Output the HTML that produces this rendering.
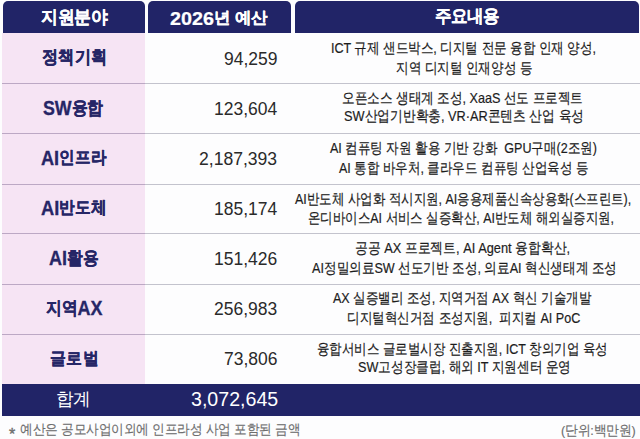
<!DOCTYPE html>
<html><head><meta charset="utf-8">
<style>
*{margin:0;padding:0;box-sizing:border-box}
html,body{width:640px;height:439px;background:#fdfdfe;overflow:hidden}
body{position:relative;font-family:"Liberation Sans",sans-serif}
.bg{position:absolute}
.h{top:1px;height:32px;background:#212467;border-radius:5px 5px 0 0}
.t{position:absolute;white-space:nowrap;line-height:24px;transform-origin:0 0}
.c1 .L{font-size:1.14em;position:relative;top:1px}.hd .L{font-size:1.2em;position:relative;top:2px}
.hd{font-size:17px;font-weight:bold;color:#ffffff;-webkit-text-stroke:0.25px #ffffff}
.c1{font-size:17px;font-weight:bold;color:#262666;-webkit-text-stroke:0.3px #262666}
.c2{font-size:18px;font-weight:normal;color:#2a2a2a}
.c3{font-size:15px;font-weight:normal;color:#1c1c1c;-webkit-text-stroke:0.2px #1c1c1c}
.tl{font-size:17px;font-weight:normal;color:#ffffff}
.tn{font-size:18px;font-weight:normal;color:#ffffff}
.ft{font-size:13px;font-weight:normal;color:#6e6e6e;-webkit-text-stroke:0.15px #6e6e6e}
.fa{font-size:13px;font-weight:normal;color:#6e6e6e;-webkit-text-stroke:0.3px #6e6e6e}
</style></head><body>

<div class="bg h" style="left:2.6px;width:142px"></div>
<div class="bg h" style="left:148.2px;width:142.4px"></div>
<div class="bg h" style="left:295px;width:343.8px"></div>
<div class="bg" style="left:2px;top:33px;width:143px;height:351px;background:#f6e4f4"></div>
<div class="bg" style="left:2px;top:83px;width:143px;height:1px;background:#bca8c4"></div>
<div class="bg" style="left:145px;top:83px;width:495px;height:1px;background:#c3c3cd"></div>
<div class="bg" style="left:2px;top:133px;width:143px;height:1px;background:#bca8c4"></div>
<div class="bg" style="left:145px;top:133px;width:495px;height:1px;background:#c3c3cd"></div>
<div class="bg" style="left:2px;top:184px;width:143px;height:1px;background:#bca8c4"></div>
<div class="bg" style="left:145px;top:184px;width:495px;height:1px;background:#c3c3cd"></div>
<div class="bg" style="left:2px;top:233px;width:143px;height:1px;background:#bca8c4"></div>
<div class="bg" style="left:145px;top:233px;width:495px;height:1px;background:#c3c3cd"></div>
<div class="bg" style="left:2px;top:284px;width:143px;height:1px;background:#bca8c4"></div>
<div class="bg" style="left:145px;top:284px;width:495px;height:1px;background:#c3c3cd"></div>
<div class="bg" style="left:2px;top:334px;width:143px;height:1px;background:#bca8c4"></div>
<div class="bg" style="left:145px;top:334px;width:495px;height:1px;background:#c3c3cd"></div>
<div class="bg" style="left:2px;top:384px;width:638px;height:32px;background:#212467"></div>
<div class="t hd" style="left:40.90px;top:5.18px;transform:scale(0.9716,1.0410)">지원분야</div>
<div class="t hd" style="left:170.33px;top:4.58px;transform:scale(0.9676,0.9410)"><span class=L>2026</span>년 예산</div>
<div class="t hd" style="left:434.72px;top:4.24px;transform:scale(0.9490,1.0346)">주요내용</div>
<div class="t c1" style="left:41.52px;top:44.68px;transform:scale(0.9689,1.0832)">정책기획</div>
<div class="t c1" style="left:42.51px;top:93.72px;transform:scale(0.9195,1.0431)"><span class=L>SW</span>융합</div>
<div class="t c1" style="left:40.67px;top:143.50px;transform:scale(0.9377,1.0262)"><span class=L>AI</span>인프라</div>
<div class="t c1" style="left:40.67px;top:193.50px;transform:scale(0.9432,1.0262)"><span class=L>AI</span>반도체</div>
<div class="t c1" style="left:48.77px;top:244.07px;transform:scale(0.9278,1.0592)"><span class=L>AI</span>활용</div>
<div class="t c1" style="left:45.61px;top:293.84px;transform:scale(0.9256,1.0570)">지역<span class=L>AX</span></div>
<div class="t c1" style="left:49.63px;top:346.56px;transform:scale(0.9565,1.0252)">글로벌</div>
<div class="t c2" style="left:223.61px;top:46.70px;transform:scale(0.9727,1.0000)">94,259</div>
<div class="t c2" style="left:213.50px;top:96.70px;transform:scale(0.9720,1.0000)">123,604</div>
<div class="t c2" style="left:199.00px;top:146.70px;transform:scale(0.9754,1.0000)">2,187,393</div>
<div class="t c2" style="left:213.50px;top:196.70px;transform:scale(0.9720,1.0000)">185,174</div>
<div class="t c2" style="left:213.50px;top:246.70px;transform:scale(0.9720,1.0000)">151,426</div>
<div class="t c2" style="left:213.50px;top:296.70px;transform:scale(0.9720,1.0000)">256,983</div>
<div class="t c2" style="left:223.50px;top:346.70px;transform:scale(0.9720,1.0000)">73,806</div>
<div class="t c3" style="left:331.16px;top:35.60px;transform:scale(0.8375,1.0000)">ICT 규제 샌드박스, 디지털 전문 융합 인재 양성,</div>
<div class="t c3" style="left:395.75px;top:55.70px;transform:scale(0.8379,1.0000)">지역 디지털 인재양성 등</div>
<div class="t c3" style="left:342.47px;top:85.80px;transform:scale(0.8405,1.0000)">오픈소스 생태계 조성, XaaS 선도 프로젝트</div>
<div class="t c3" style="left:344.25px;top:103.60px;transform:scale(0.8496,1.0000)">SW산업기반확충, VR·AR콘텐츠 산업 육성</div>
<div class="t c3" style="left:329.60px;top:135.60px;transform:scale(0.8365,1.0000)">AI 컴퓨팅 자원 활용 기반 강화&nbsp; GPU구매(2조원)</div>
<div class="t c3" style="left:339.47px;top:156.10px;transform:scale(0.8353,1.0000)">AI 통합 바우처, 클라우드 컴퓨팅 산업육성 등</div>
<div class="t c3" style="left:294.73px;top:186.60px;transform:scale(0.8318,1.0000)">AI반도체 사업화 적시지원, AI응용제품신속상용화(스프린트),</div>
<div class="t c3" style="left:308.13px;top:206.00px;transform:scale(0.8306,1.0000)">온디바이스AI 서비스 실증확산, AI반도체 해외실증지원,</div>
<div class="t c3" style="left:355.37px;top:235.80px;transform:scale(0.8541,1.0000)">공공 AX 프로젝트, AI Agent 융합확산,</div>
<div class="t c3" style="left:311.61px;top:256.10px;transform:scale(0.8410,1.0000)">AI정밀의료SW 선도기반 조성, 의료AI 혁신생태계 조성</div>
<div class="t c3" style="left:333.30px;top:285.60px;transform:scale(0.8348,1.0000)">AX 실증밸리 조성, 지역거점 AX 혁신 기술개발</div>
<div class="t c3" style="left:347.23px;top:306.10px;transform:scale(0.8382,1.0000)">디지털혁신거점 조성지원,&nbsp; 피지컬 AI PoC</div>
<div class="t c3" style="left:317.49px;top:336.60px;transform:scale(0.8326,1.0000)">융합서비스 글로벌시장 진출지원, ICT 창의기업 육성</div>
<div class="t c3" style="left:357.53px;top:355.10px;transform:scale(0.8422,1.0000)">SW고성장클럽, 해외 IT 지원센터 운영</div>
<div class="t tl" style="left:56.21px;top:386.82px;transform:scale(1.0233,1.0456)">합계</div>
<div class="t tn" style="left:190.57px;top:385.33px;transform:scale(1.0893,1.1590)">3,072,645</div>
<div class="t fa" style="left:8.91px;top:420.60px;transform:scale(1.2333,1.2000)">*</div>
<div class="t ft" style="left:20.00px;top:417.18px;transform:scale(0.9621,1.0650)">예산은 공모사업이외에 인프라성 사업 포함된 금액</div>
<div class="t ft" style="left:560.52px;top:417.95px;transform:scale(0.9676,1.0539)">(단위:백만원)</div>
</body></html>
